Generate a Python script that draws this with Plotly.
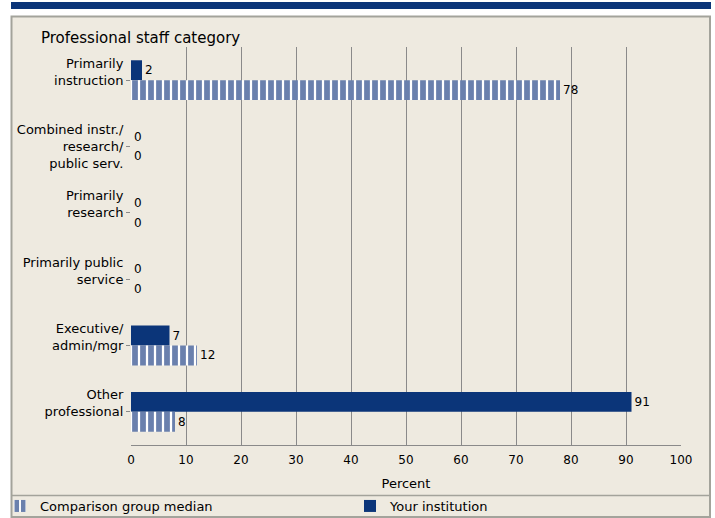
import plotly.graph_objects as go

categories = ["Primarily<br>instruction", "Combined instr./<br>research/<br>public serv.",
              "Primarily<br>research", "Primarily public<br>service",
              "Executive/<br>admin/mgr", "Other<br>professional"]
your_institution = [2, 0, 0, 0, 7, 91]
comparison_median = [78, 0, 0, 0, 12, 8]
x_ticks = [0, 10, 20, 30, 40, 50, 60, 70, 80, 90, 100]

DARK = "#0b3579"
LIGHT = "#6a80ad"
BG = "#eeeae0"
FONT = "DejaVu Sans, Verdana, sans-serif"

# plot area in pixels
L, R, T, B = 131, 681, 47, 445
W, H = R - L, B - T
def px(x): return (x - L) / W
def py(y): return (B - y) / H

# tick labels: two-line labels get an empty third line so the last line sits at the tick
tick_text = [c if c.count("<br>") >= 2 else c + "<br>\u00a0" for c in categories]

fig = go.Figure()
fig.add_trace(go.Bar(
    y=categories, x=your_institution, orientation="h", name="Your institution",
    marker=dict(color=DARK, line=dict(width=0)),
    text=your_institution, textposition="outside", cliponaxis=False,
    textfont=dict(color="#000", size=12, family=FONT), legend="legend2",
))
fig.add_trace(go.Bar(
    y=categories, x=comparison_median, orientation="h", name="Comparison group median",
    marker=dict(color=LIGHT, line=dict(width=0),
                pattern=dict(shape="|", size=8, solidity=0.72, fgcolor=LIGHT,
                             bgcolor="white", fillmode="replace")),
    text=comparison_median, textposition="outside", cliponaxis=False,
    textfont=dict(color="#000", size=12, family=FONT), legend="legend",
))

shapes = [
    dict(type="rect", xref="paper", yref="paper", x0=px(11), x1=px(711), y0=py(2), y1=py(9),
         fillcolor=DARK, line=dict(width=0), layer="below"),
    dict(type="rect", xref="paper", yref="paper", x0=px(11.5), x1=px(710), y0=py(517), y1=py(16.5),
         fillcolor=BG, line=dict(color="#a3a39b", width=2), layer="below"),
    dict(type="line", xref="paper", yref="paper", x0=px(11.5), x1=px(710), y0=py(495.5), y1=py(495.5),
         line=dict(color="#a3a39b", width=1.5), layer="below"),
]

legend_common = dict(orientation="h", y=py(506), xanchor="left", yanchor="middle",
                     font=dict(size=13, family=FONT), bgcolor="rgba(0,0,0,0)",
                     itemsizing="constant")

fig.update_layout(
    width=715, height=518,
    margin=dict(l=L, r=715 - R, t=T, b=518 - B, autoexpand=False),
    paper_bgcolor="white", plot_bgcolor="rgba(0,0,0,0)",
    font=dict(family=FONT, size=13, color="#000"),
    barmode="group", bargap=0.4, bargroupgap=0,
    shapes=shapes,
    showlegend=True,
    legend=dict(x=px(0), **legend_common),
    legend2=dict(x=px(350), **legend_common),
    annotations=[dict(text="Professional staff category", xref="paper", yref="paper",
                      x=px(39), y=py(38), xanchor="left", yanchor="middle", showarrow=False,
                      font=dict(size=15, family=FONT, color="#000"))],
)
fig.update_xaxes(range=[0, 100], tickvals=x_ticks, showgrid=True, gridcolor="#8a8a8a",
                 gridwidth=1, zeroline=False, showline=True, linecolor="#8a8a8a", linewidth=1,
                 ticks="", ticklabelstandoff=4, tickfont=dict(size=12),
                 title=dict(text="Percent", standoff=12, font=dict(size=13)), fixedrange=True)
fig.update_yaxes(autorange="reversed", showgrid=False, showline=False, ticks="outside",
                 ticklen=4, tickcolor="#8a8a8a", tickfont=dict(size=13), fixedrange=True,
                 tickmode="array", tickvals=categories, ticktext=tick_text)

fig.write_html("out.html", config={"displayModeBar": False},
               post_script="document.body.style.margin='0';")
